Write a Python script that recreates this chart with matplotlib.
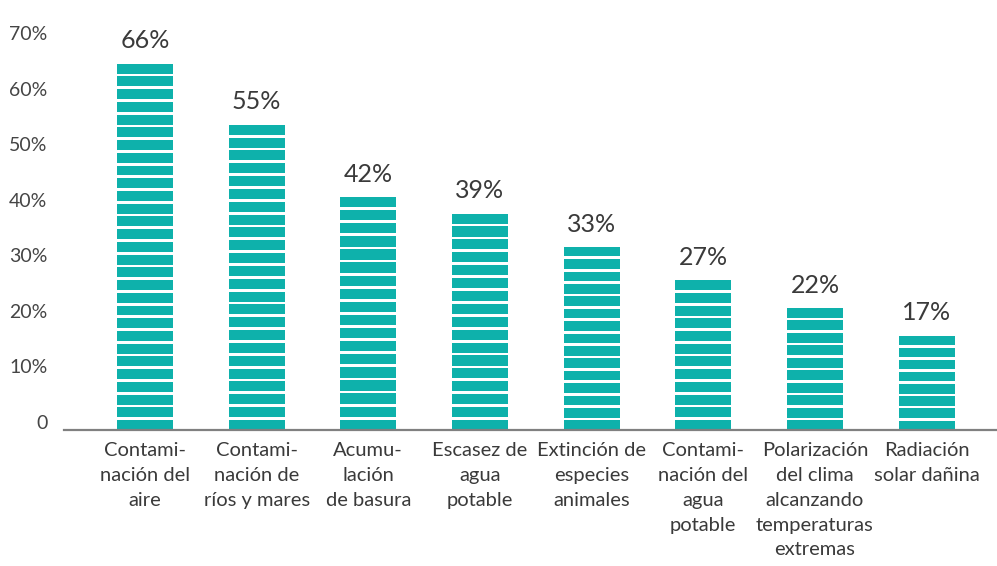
import matplotlib
matplotlib.use("Agg")
import matplotlib.pyplot as plt
import matplotlib.transforms as mtransforms
import numpy as np

categories = [
    "Contami-\nnación del\naire",
    "Contami-\nnación de\nríos y mares",
    "Acumu-\nlación\nde basura",
    "Escasez de\nagua\npotable",
    "Extinción de\nespecies\nanimales",
    "Contami-\nnación del\nagua\npotable",
    "Polarización\ndel clima\nalcanzando\ntemperaturas\nextremas",
    "Radiación\nsolar dañina",
]
values = [66, 55, 42, 39, 33, 27, 22, 17]
yticks = [0, 10, 20, 30, 40, 50, 60, 70]
ytick_labels = ["0", "10%", "20%", "30%", "40%", "50%", "60%", "70%"]

BAR = "#0EB1AB"
TXT = "#3a3a3a"
plt.rcParams['font.family'] = ['Lato', 'DejaVu Sans']

W, H = 997, 566
fig = plt.figure(figsize=(W / 100, H / 100), dpi=100)
ax_left, ax_right = 64, 997
ax_bottom, ax_top = 430, 430 - 7 * 55.5
ax = fig.add_axes([ax_left / W, (H - ax_bottom) / H, (ax_right - ax_left) / W, (ax_bottom - ax_top) / H])

x = np.arange(len(values))
unit = 2.3   # nominal stripe pitch (%)
gap = 0.5    # white gap between stripes (%)
for xi, v in zip(x, values):
    n = max(1, int(round((v + gap) / unit)))
    pitch = (v + gap) / n
    bottoms = np.arange(n) * pitch
    ax.bar([xi] * n, [pitch - gap] * n, bottom=bottoms, width=0.5, color=BAR, linewidth=0)
    ax.annotate(f"{v}%", (xi, v), xytext=(0, 11), textcoords="offset points",
                ha="center", va="baseline", fontsize=18, color=TXT)

ax.set_xlim(-0.725, 7.63)
ax.set_ylim(0, 70)
ax.set_yticks(yticks)
ax.set_yticklabels(ytick_labels, fontsize=14, color="#454545")
ax.tick_params(axis="y", length=0, pad=12)
offset = mtransforms.ScaledTranslation(0, 6 / 72, fig.dpi_scale_trans)
for lab in ax.get_yticklabels():
    lab.set_transform(lab.get_transform() + offset)

ax.set_xticks(x)
ax.set_xticklabels(categories, fontsize=14.5, color=TXT, linespacing=1.55, va="top")
ax.tick_params(axis="x", length=0, pad=9)

for s in ["top", "right", "left"]:
    ax.spines[s].set_visible(False)
ax.spines["bottom"].set_color("#808080")
ax.spines["bottom"].set_linewidth(1.6)

fig.savefig("out.png", dpi=100)
